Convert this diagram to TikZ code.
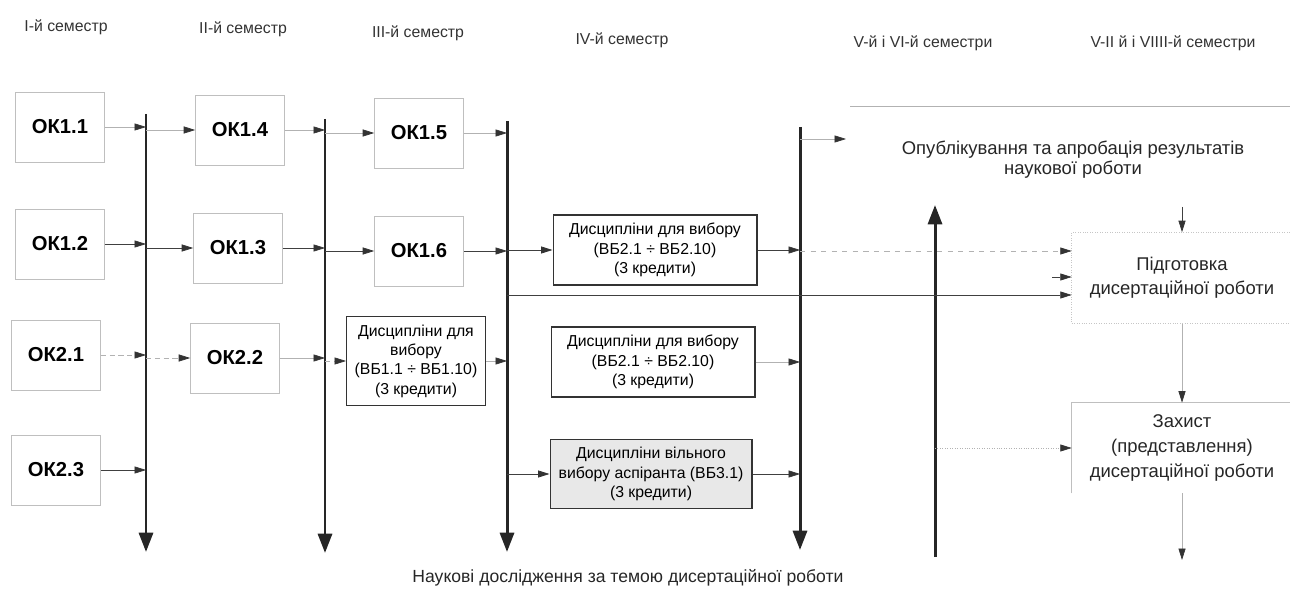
\documentclass[tikz,border=0pt]{standalone}
\usepackage{fontspec}
\setmainfont{Liberation Sans}
\usetikzlibrary{arrows.meta,positioning,calc}

\tikzset{
  okbox/.style={draw=gray!50, thin, minimum width=1.78cm, minimum height=1.4cm,
    font=\fontsize{11.5}{13}\selectfont\bfseries},
  vbbox/.style={draw=black!80, semithick, align=center, inner sep=1pt,
    font=\fontsize{9}{11}\selectfont},
  stage/.style={font=\fontsize{9}{11}\selectfont, text=black!80},
  txt/.style={align=center, font=\fontsize{10.5}{11.5}\selectfont, text=black!85},
  lnk/.style={-{Triangle[length=6.5pt,width=4pt,color=black!80]}, black!75, thin},
  faint/.style={lnk, gray!60},
  flow/.style={-{Triangle[length=11pt,width=8pt]}, line width=1.7pt, black!85},
}

\begin{document}
\begin{tikzpicture}[x=0.02cm, y=-0.02cm]
    \useasboundingbox (0,0) rectangle (1290,597);

    % semesters
    \node[stage] (s1) at (66,27) {I-й семестр};
    \node[stage] (s2) at (243,29) {II-й семестр};
    \node[stage] (s3) at (418,33) {III-й семестр};
    \node[stage] (s4) at (622,40) {IV-й семестр};
    \node[stage] (s5) at (923,43) {V-й і VI-й семестри};
    \node[stage] (s6) at (1173,43) {V-II й і VIIII-й семестри};

    % time lines
    \coordinate (v1t) at (146,114);  \coordinate (v1b) at (146,552);
    \coordinate (v2t) at (325,119);  \coordinate (v2b) at (325,553);
    \coordinate (v3t) at (507,121);  \coordinate (v3b) at (507,552);
    \coordinate (v4t) at (800,127);  \coordinate (v4b) at (800,550);
    \coordinate (upb) at (935,557);  \coordinate (upt) at (935,205);
    \draw[flow] (v1t) -- (v1b);
    \draw[flow] (v2t) -- (v2b);
    \draw[flow] (v3t) -- (v3b);
    \draw[flow] (v4t) -- (v4b);
    \draw[flow] (upb) -- (upt);

    % compulsory courses
    \node[okbox] (ok11) at (60,127) {ОК1.1};
    \node[okbox] (ok12) at (60,244) {ОК1.2};
    \node[okbox] (ok21) at (56,355) {ОК2.1};
    \node[okbox] (ok23) at (56,470) {ОК2.3};
    \node[okbox] (ok14) at (240,130) {ОК1.4};
    \node[okbox] (ok13) at (238,248) {ОК1.3};
    \node[okbox] (ok22) at (235,358) {ОК2.2};
    \node[okbox] (ok15) at (419,133) {ОК1.5};
    \node[okbox] (ok16) at (419,251) {ОК1.6};

    % elective courses
    \node[vbbox, minimum width=2.78cm, minimum height=1.78cm] (vb1) at (416,361)
        {Дисципліни для\\вибору\\(ВБ1.1 ÷ ВБ1.10)\\(3 кредити)};
    \node[vbbox, minimum width=4.08cm, minimum height=1.4cm] (vb2a) at (655,250)
        {Дисципліни для вибору\\(ВБ2.1 ÷ ВБ2.10)\\(3 кредити)};
    \node[vbbox, minimum width=4.08cm, minimum height=1.4cm] (vb2b) at (653,362)
        {Дисципліни для вибору\\(ВБ2.1 ÷ ВБ2.10)\\(3 кредити)};
    \node[vbbox, fill=gray!18, minimum width=4.04cm, minimum height=1.38cm] (vb3) at (651,474)
        {Дисципліни вільного\\вибору аспіранта (ВБ3.1)\\(3 кредити)};

    % research results
    \node[txt] (pub) at (1073,160) {Опублікування та апробація результатів\\наукової роботи};
    \draw[gray!60] (850,106) -- (1290,106);
    \node[txt, font=\fontsize{10.5}{13.5}\selectfont, minimum width=4.4cm, minimum height=1.82cm]
        (prep) at (1182,278) {Підготовка\\дисертаційної роботи};
    \node[txt, font=\fontsize{10.5}{14.5}\selectfont, minimum width=4.4cm, minimum height=1.8cm]
        (def) at (1182,448) {Захист\\(представлення)\\дисертаційної роботи};
    \draw[gray!45, densely dotted] (prep.north east) -- (prep.north west)
        -- (prep.south west) -- (prep.south east);
    \draw[gray!50] (def.south west) -- (def.north west) -- (def.north east);
    \node[txt, font=\fontsize{10}{12}\selectfont] (res) at (628,578)
        {Наукові дослідження за темою дисертаційної роботи};

    % I semester
    \draw[faint] (ok11.east) -- (ok11.east -| v1t);
    \draw[lnk] (ok12.east) -- (ok12.east -| v1t);
    \draw[faint, densely dashed] (ok21.east) -- (ok21.east -| v1t);
    \draw[lnk] (ok23.east) -- (ok23.east -| v1t);
    \draw[faint] (ok14.west -| v1t) -- (ok14.west);
    \draw[lnk] (ok13.west -| v1t) -- (ok13.west);
    \draw[faint, densely dashed] (ok22.west -| v1t) -- (ok22.west);

    % II semester
    \draw[faint] (ok14.east) -- (ok14.east -| v2t);
    \draw[lnk] (ok13.east) -- (ok13.east -| v2t);
    \draw[faint] (ok22.east) -- (ok22.east -| v2t);
    \draw[faint] (ok15.west -| v2t) -- (ok15.west);
    \draw[lnk] (ok16.west -| v2t) -- (ok16.west);
    \draw[faint, densely dashed] (vb1.west -| v2t) -- (vb1.west);

    % III semester
    \draw[faint] (ok15.east) -- (ok15.east -| v3t);
    \draw[lnk] (ok16.east) -- (ok16.east -| v3t);
    \draw[faint] (vb1.east) -- (vb1.east -| v3t);
    \draw[lnk] (vb2a.west -| v3t) -- (vb2a.west);
    \draw[lnk] (vb3.west -| v3t) -- (vb3.west);
    \coordinate (t3) at (507,295);
    \draw[lnk] (t3) -- (t3 -| prep.west);

    % IV semester
    \draw[lnk] (vb2a.east) -- (vb2a.east -| v4t);
    \draw[faint] (vb2b.east) -- (vb2b.east -| v4t);
    \draw[lnk] (vb3.east) -- (vb3.east -| v4t);

    % V-VIII semesters
    \coordinate (t4) at (800,139);
    \coordinate (pubin) at (846,139);
    \draw[faint] (t4) -- (pubin);
    \coordinate (t5) at (800,251);
    \draw[faint, dashed] (t5) -- (t5 -| prep.west);
    \coordinate (t6) at (1052,277);
    \draw[lnk] (t6) -- (t6 -| prep.west);
    \coordinate (pubout) at (1182,207);
    \draw[lnk] (pubout) -- (prep.north);
    \draw[faint] (prep.south) -- (def.north);
    \draw[faint, densely dotted] (def.west -| upt) -- (def.west);
    \coordinate (defout) at (1182,560);
    \draw[faint] (def.south) -- (defout);
\end{tikzpicture}
\end{document}
